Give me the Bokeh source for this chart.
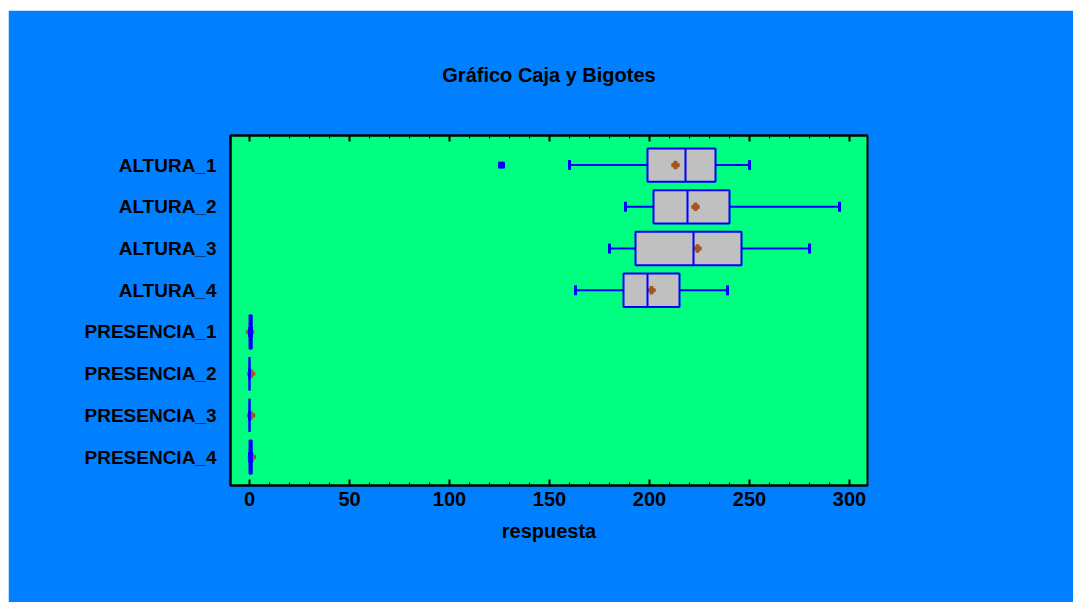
from bokeh.plotting import figure
from bokeh.models import Range1d, LinearAxis, FixedTicker, SingleIntervalTicker
from bokeh.embed import file_html
from bokeh.resources import INLINE

# ---- data ----
categories = ["ALTURA_1", "ALTURA_2", "ALTURA_3", "ALTURA_4",
              "PRESENCIA_1", "PRESENCIA_2", "PRESENCIA_3", "PRESENCIA_4"]
whisker_low = [160, 188, 180, 163, 0, 0, 0, 0]
q1 = [199, 202, 193, 187, 0, 0, 0, 0]
median = [218, 219, 222, 199, 1, 0, 0, 1]
q3 = [233, 240, 246, 215, 1, 0, 0, 1]
whisker_high = [250, 295, 280, 239, 1, 0, 0, 1]
means = [213, 223, 224, 201, 0.3, 0.8, 0.8, 1.2]
outlier_cat = ["ALTURA_1"]
outlier_val = [126]

FONT = "Liberation Sans"
BLUE = "#0000FF"
pos = [i + 1 for i in range(len(categories))]
BOX_H = 0.8
CAP_H = 0.24

p = figure(width=1065, height=592, output_backend="svg", toolbar_location=None,
           x_range=Range1d(-9.5, 309), y_range=Range1d(8.68, 0.29),
           min_border_left=222, min_border_right=206, min_border_top=125,
           min_border_bottom=117, frame_width=637, frame_height=350,
           x_axis_location=None, y_axis_location=None)
p.margin = (10, 0, 0, 8)
p.background_fill_color = "#00FF80"
p.border_fill_color = "#0080FF"
p.outline_line_color = "black"
p.outline_line_width = 2
p.xgrid.visible = False
p.ygrid.visible = False

p.title.text = "Gráfico Caja y Bigotes"
p.title.align = "center"
p.title.text_font = FONT
p.title.text_font_size = "20px"
p.title.text_font_style = "bold"
p.title.text_color = "black"
p.title.standoff = 100

# bottom axis
xb = LinearAxis(ticker=SingleIntervalTicker(interval=50, num_minor_ticks=5),
                axis_label="respuesta")
xb.axis_line_color = "black"
xb.axis_line_width = 2
xb.major_tick_in = 6
xb.major_tick_out = 0
xb.minor_tick_in = 3
xb.minor_tick_out = 0
xb.major_tick_line_width = 2
xb.minor_tick_line_width = 1
xb.major_label_text_font = FONT
xb.major_label_text_font_size = "20px"
xb.major_label_text_font_style = "bold"
xb.major_label_text_color = "black"
xb.major_label_standoff = 6
xb.axis_label_text_font = FONT
xb.axis_label_text_font_size = "20px"
xb.axis_label_text_font_style = "bold"
xb.axis_label_text_color = "black"
xb.axis_label_standoff = 11
p.add_layout(xb, "below")

# top axis (ticks only)
xt = LinearAxis(ticker=SingleIntervalTicker(interval=50, num_minor_ticks=5))
xt.axis_line_color = "black"
xt.axis_line_width = 2
xt.major_tick_in = 6
xt.major_tick_out = 0
xt.minor_tick_in = 3
xt.minor_tick_out = 0
xt.major_tick_line_width = 2
xt.major_label_text_color = None
xt.major_label_text_font_size = "1px"
p.add_layout(xt, "above")

# left axis with category labels
yl = LinearAxis(ticker=FixedTicker(ticks=pos))
yl.major_label_overrides = {pp: c for pp, c in zip(pos, categories)}
yl.axis_line_color = "black"
yl.axis_line_width = 2
yl.major_tick_in = 0
yl.major_tick_out = 0
yl.minor_tick_line_color = None
yl.major_label_text_font = FONT
yl.major_label_text_font_size = "19px"
yl.major_label_text_font_style = "bold"
yl.major_label_text_color = "black"
yl.major_label_standoff = 14
p.add_layout(yl, "left")

# boxes: fill first
p.hbar(y=pos, left=q1, right=q3, height=BOX_H, fill_color="#C0C0C0", line_color=None)
# mean markers
p.scatter(x=means, y=pos, marker="plus", size=7, line_width=1.5,
          line_color="#A5561E", fill_color="#A5561E")
# outlines
p.hbar(y=pos, left=q1, right=q3, height=BOX_H, fill_color=None,
       line_color=BLUE, line_width=2)
# medians
p.segment(x0=median, y0=[y - BOX_H / 2 for y in pos], x1=median,
          y1=[y + BOX_H / 2 for y in pos], line_color=BLUE, line_width=2)
# whiskers
p.segment(x0=whisker_low, y0=pos, x1=q1, y1=pos, line_color=BLUE, line_width=2)
p.segment(x0=q3, y0=pos, x1=whisker_high, y1=pos, line_color=BLUE, line_width=2)
# caps
p.segment(x0=whisker_low, y0=[y - CAP_H / 2 for y in pos], x1=whisker_low,
          y1=[y + CAP_H / 2 for y in pos], line_color=BLUE, line_width=3)
p.segment(x0=whisker_high, y0=[y - CAP_H / 2 for y in pos], x1=whisker_high,
          y1=[y + CAP_H / 2 for y in pos], line_color=BLUE, line_width=3)
# outliers
out_pos = [pos[categories.index(c)] for c in outlier_cat]
p.scatter(x=outlier_val, y=out_pos, marker="square", size=6,
          fill_color=BLUE, line_color=BLUE)

open("out.html", "w").write(file_html(p, INLINE))
